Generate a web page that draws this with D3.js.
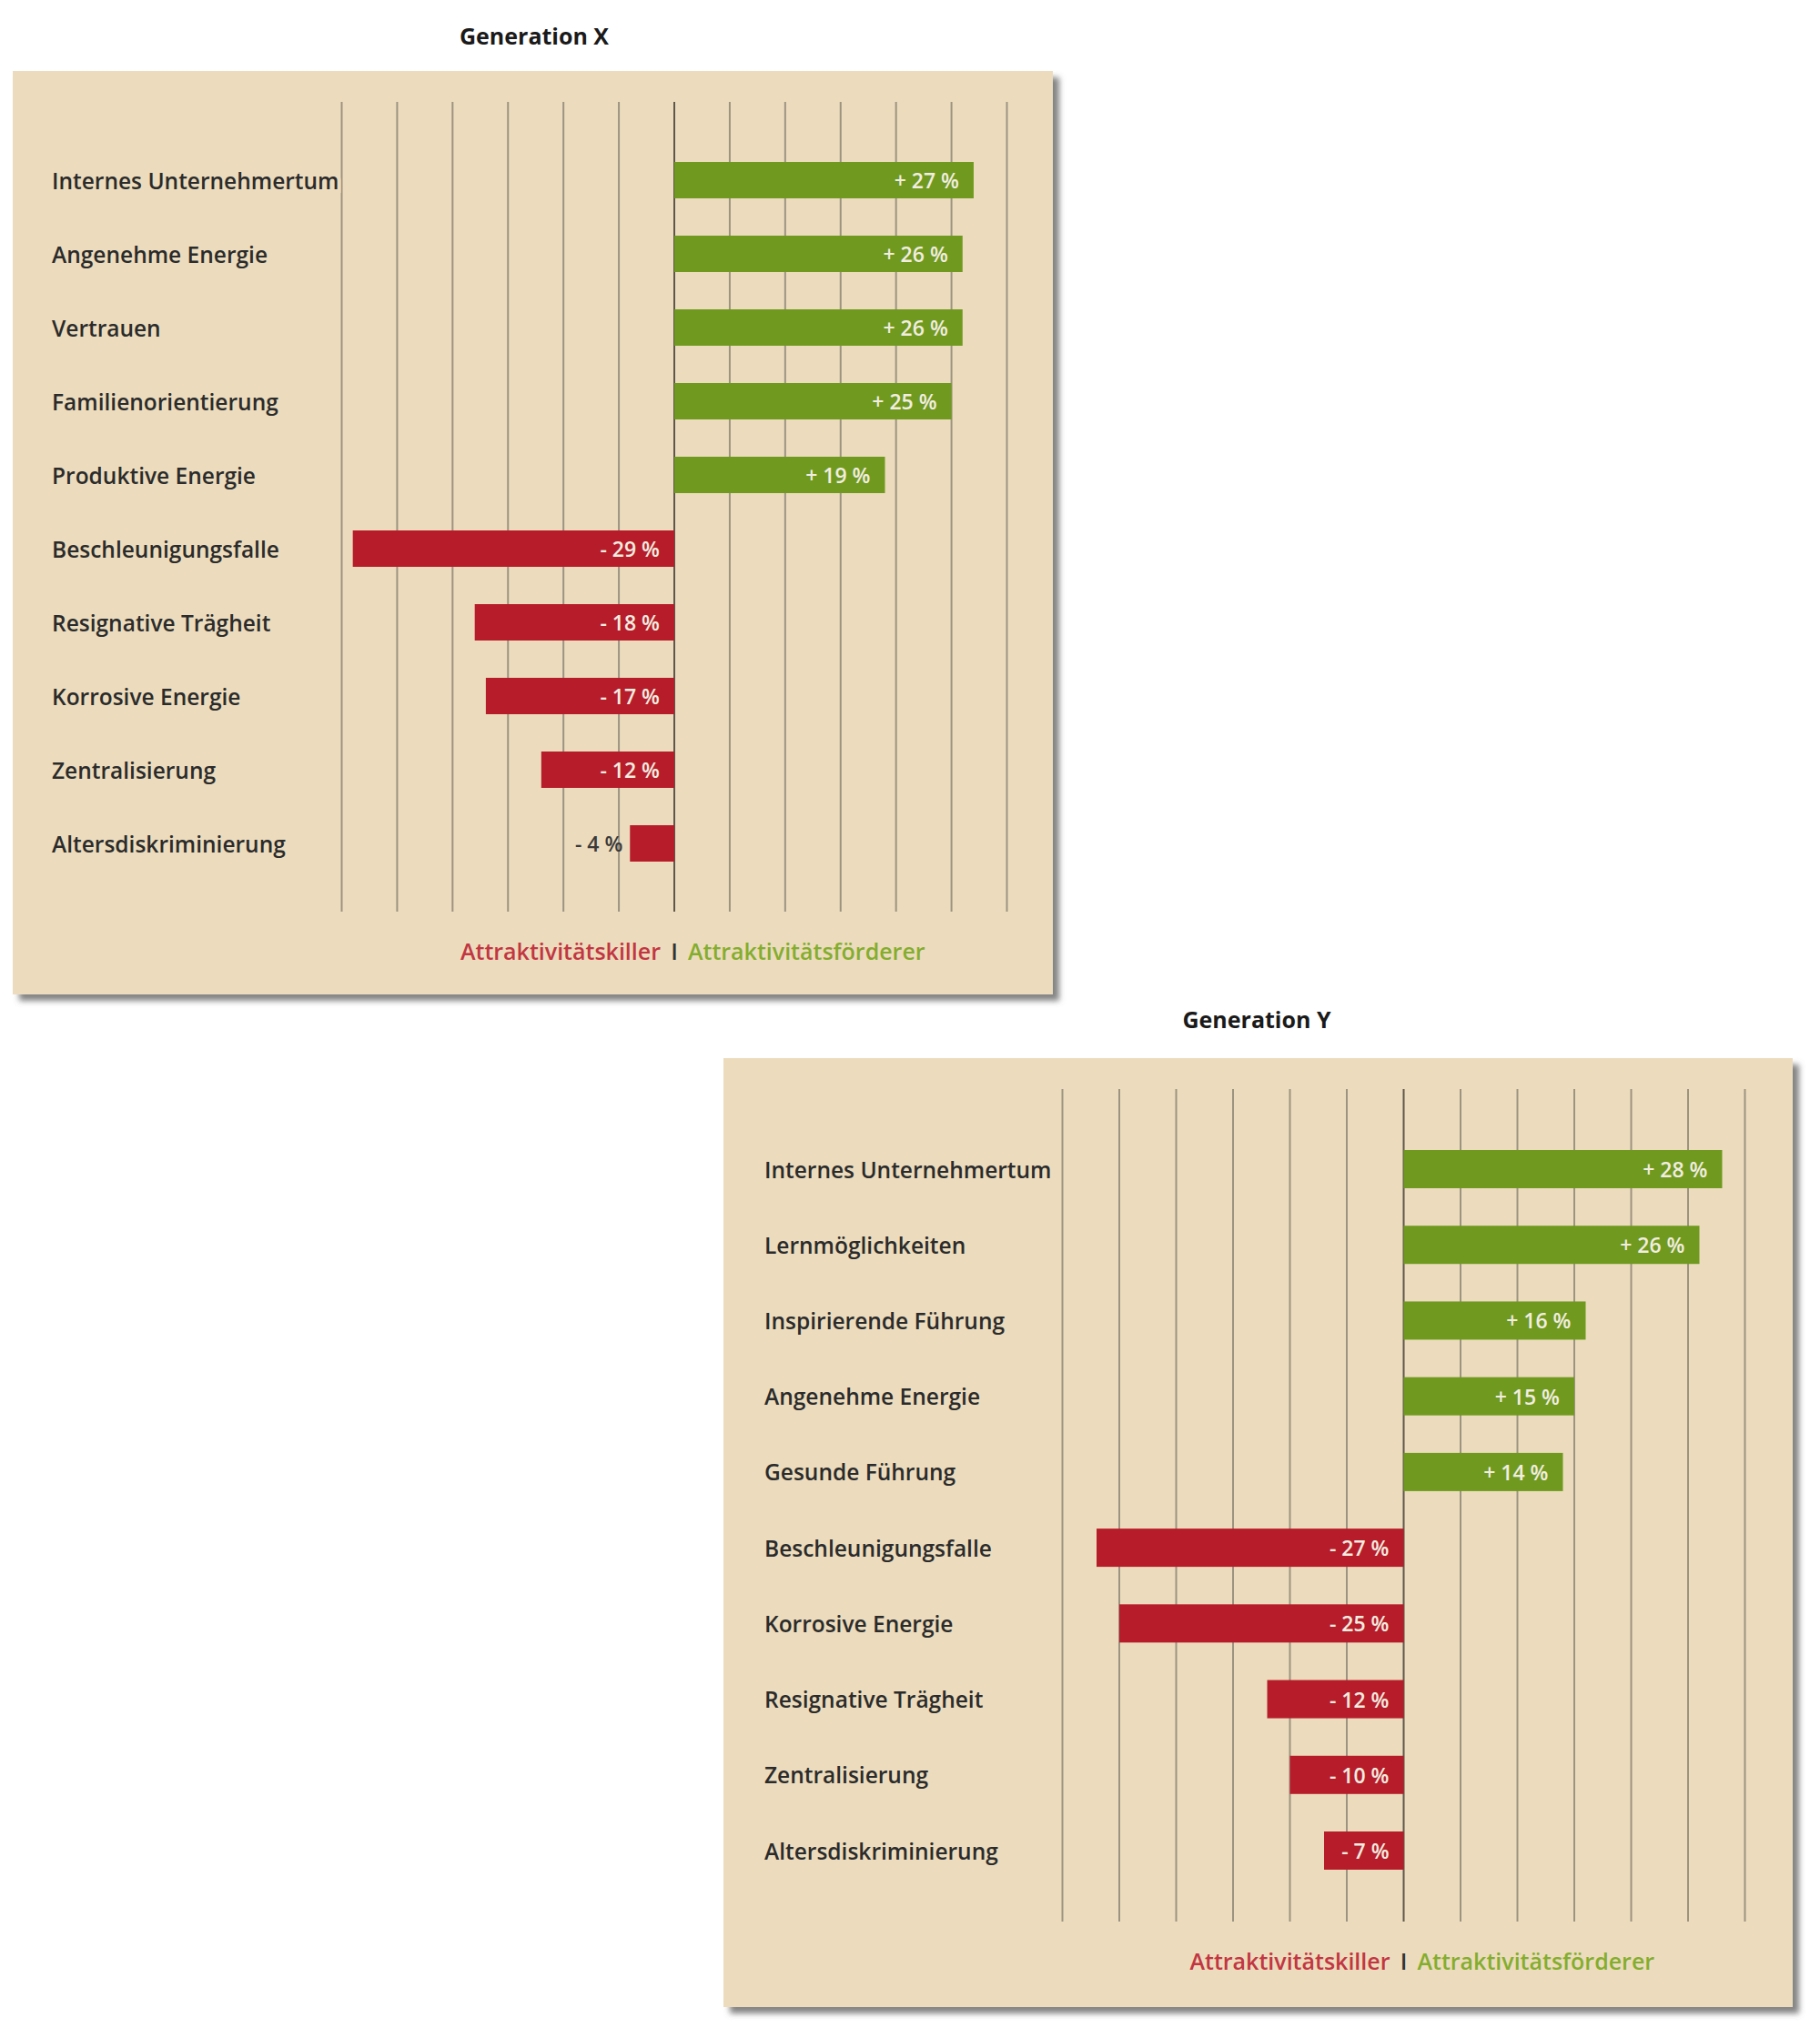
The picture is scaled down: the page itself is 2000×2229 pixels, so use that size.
<!DOCTYPE html>
<html>
<head>
<meta charset="utf-8">
<script src="https://cdn.jsdelivr.net/npm/d3@7"></script>
<style>
  body { margin: 0; background: #fff; }
  text { font-family: "Open Sans", "Noto Sans", sans-serif; }
</style>
</head>
<body>
<svg id="canvas" width="2000" height="2229"></svg>
<script>
// Generation X
const genXCategories = ["Internes Unternehmertum", "Angenehme Energie", "Vertrauen", "Familienorientierung",
  "Produktive Energie", "Beschleunigungsfalle", "Resignative Trägheit", "Korrosive Energie",
  "Zentralisierung", "Altersdiskriminierung"];
const genXValues = [27, 26, 26, 25, 19, -29, -18, -17, -12, -4];

// Generation Y
const genYCategories = ["Internes Unternehmertum", "Lernmöglichkeiten", "Inspirierende Führung", "Angenehme Energie",
  "Gesunde Führung", "Beschleunigungsfalle", "Korrosive Energie", "Resignative Trägheit",
  "Zentralisierung", "Altersdiskriminierung"];
const genYValues = [28, 26, 16, 15, 14, -27, -25, -12, -10, -7];

const xDomain = [-30, 30];
const legendKiller = "Attraktivitätskiller";
const legendFoerderer = "Attraktivitätsförderer";

const panelColor = "#ecdcbd";
const green = "#6f9a1f";
const red = "#b71c2a";

let svg = d3.select("#canvas");

let defs = svg.append("defs");
defs.append("filter")
    .attr("id", "shadow")
    .attr("x", "-5%").attr("y", "-5%").attr("width", "110%").attr("height", "110%")
  .append("feDropShadow")
    .attr("dx", 7).attr("dy", 7)
    .attr("stdDeviation", 3)
    .attr("flood-color", "#6e6e6e")
    .attr("flood-opacity", 0.85);

let drawChart = (cfg) => {
  let g = svg.append("g");

  g.append("text")
      .attr("x", cfg.titleX)
      .attr("y", cfg.titleY)
      .attr("dy", "0.35em")
      .attr("text-anchor", "middle")
      .attr("font-size", 25)
      .attr("font-weight", 700)
      .attr("fill", "#1a1a1a")
      .text(cfg.title);

  g.append("rect")
      .attr("x", cfg.panel[0])
      .attr("y", cfg.panel[1])
      .attr("width", cfg.panel[2] - cfg.panel[0])
      .attr("height", cfg.panel[3] - cfg.panel[1])
      .attr("fill", panelColor)
      .attr("filter", "url(#shadow)");

  let x = d3.scaleLinear().domain(xDomain).range(cfg.xRange);
  let y = d3.scalePoint().domain(cfg.categories).range(cfg.yRange);

  // vertical grid lines
  g.selectAll(".grid")
      .data(x.ticks(12))
      .enter()
      .append("line")
      .attr("x1", (d) => x(d))
      .attr("x2", (d) => x(d))
      .attr("y1", cfg.gridTop)
      .attr("y2", cfg.gridBottom)
      .attr("stroke", (d) => d === 0 ? "#5e574b" : "#9c9381")
      .attr("stroke-width", 2);

  let rows = cfg.categories.map((c, i) => ({ name: c, value: cfg.values[i] }));

  g.selectAll(".label")
      .data(rows)
      .enter()
      .append("text")
      .attr("x", cfg.labelX)
      .attr("y", (d) => y(d.name) + 1)
      .attr("dy", "0.35em")
      .attr("font-size", 24.5)
      .attr("font-weight", 600)
      .attr("fill", "#2b2b2b")
      .attr("stroke", panelColor)
      .attr("stroke-width", 8)
      .attr("paint-order", "stroke")
      .text((d) => d.name);

  g.selectAll(".bar")
      .data(rows)
      .enter()
      .append("rect")
      .attr("x", (d) => x(Math.min(0, d.value)))
      .attr("y", (d) => y(d.name) - cfg.barH / 2)
      .attr("width", (d) => Math.abs(x(d.value) - x(0)))
      .attr("height", cfg.barH)
      .attr("fill", (d) => d.value > 0 ? green : red);

  g.selectAll(".value")
      .data(rows)
      .enter()
      .append("text")
      .attr("x", (d) => {
        if (d.value > 0) return x(d.value) - 16;
        if (Math.abs(d.value) < 6) return x(d.value) - 8;
        return x(0) - 16;
      })
      .attr("y", (d) => y(d.name) + 1)
      .attr("dy", "0.35em")
      .attr("text-anchor", "end")
      .attr("font-size", 23)
      .attr("font-weight", 600)
      .attr("fill", (d) => Math.abs(d.value) < 6 ? "#3a3a3a" : "#f3ede0")
      .text((d) => (d.value > 0 ? "+ " : "- ") + Math.abs(d.value) + " %");

  // legend
  let lg = g.append("g").attr("font-size", 25).attr("font-weight", 600);
  lg.append("text")
      .attr("x", x(0) - 15)
      .attr("y", cfg.legendY)
      .attr("dy", "0.35em")
      .attr("text-anchor", "end")
      .attr("fill", "#c23642")
      .text(legendKiller);
  lg.append("text")
      .attr("x", x(0))
      .attr("y", cfg.legendY)
      .attr("dy", "0.35em")
      .attr("text-anchor", "middle")
      .attr("fill", "#333")
      .text("I");
  lg.append("text")
      .attr("x", x(0) + 15)
      .attr("y", cfg.legendY)
      .attr("dy", "0.35em")
      .attr("fill", "#84ad2f")
      .text(legendFoerderer);
};

drawChart({
  title: "Generation X",
  titleX: 587, titleY: 40,
  panel: [14, 78, 1157, 1093],
  categories: genXCategories,
  values: genXValues,
  xRange: [375.5, 1106.5],
  yRange: [198, 927],
  barH: 40,
  gridTop: 112, gridBottom: 1002,
  labelX: 57,
  legendY: 1046
});

drawChart({
  title: "Generation Y",
  titleX: 1381, titleY: 1121,
  panel: [795, 1163, 1970, 2206],
  categories: genYCategories,
  values: genYValues,
  xRange: [1167.5, 1917.5],
  yRange: [1285, 2034],
  barH: 42,
  gridTop: 1197, gridBottom: 2112,
  labelX: 840,
  legendY: 2156
});
</script>
</body>
</html>
